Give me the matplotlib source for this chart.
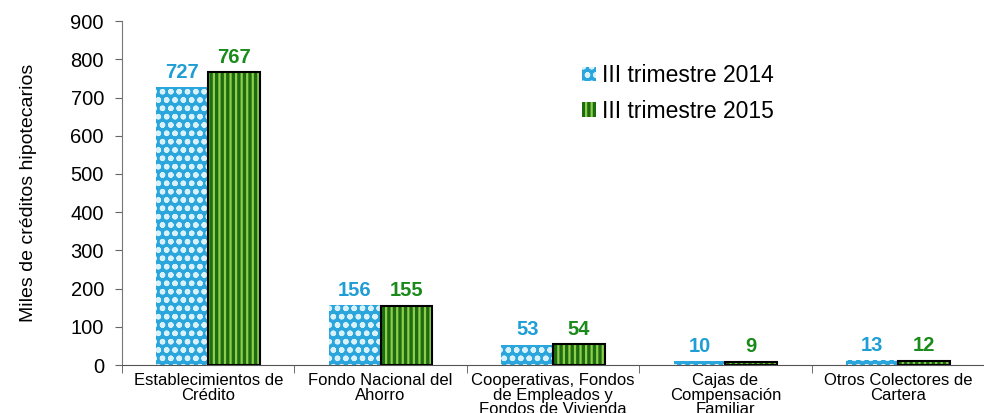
import matplotlib.pyplot as plt
import numpy as np

categories = ["Establecimientos de\nCrédito", "Fondo Nacional del\nAhorro",
              "Cooperativas, Fondos\nde Empleados y\nFondos de Vivienda",
              "Cajas de\nCompensación\nFamiliar", "Otros Colectores de\nCartera"]
serie_2014 = [727, 156, 53, 10, 13]
serie_2015 = [767, 155, 54, 9, 12]
nombres = ["III trimestre 2014", "III trimestre 2015"]

plt.rcParams['font.family'] = ['Liberation Sans', 'DejaVu Sans']
plt.rcParams['hatch.linewidth'] = 1.6

fig = plt.figure(figsize=(9.84, 4.13), dpi=100)
ax = fig.add_axes([0.124, 0.116, 0.876, 0.833])

x = np.arange(len(categories))
w = 0.3
ax.bar(x - w / 2, serie_2014, w, color='#2aa6dc', edgecolor='#d9f1fb',
       hatch='oo', linewidth=0, label=nombres[0])
ax.bar(x + w / 2, serie_2015, w, color='#1f6b12', edgecolor='#8ccf4a',
       hatch='|||', linewidth=0, label=nombres[1])
# black outline on the green bars
ax.bar(x + w / 2, serie_2015, w, fill=False, edgecolor='black', linewidth=1.5)

for i in range(len(categories)):
    ax.text(x[i] - w / 2, serie_2014[i] + 14, str(serie_2014[i]), ha='center', va='bottom',
            color='#1f9ed6', fontsize=14.5, fontweight='bold')
    ax.text(x[i] + w / 2, serie_2015[i] + 14, str(serie_2015[i]), ha='center', va='bottom',
            color='#1a8a1a', fontsize=14.5, fontweight='bold')

ax.set_xlim(-0.5, 4.48)
ax.set_ylim(0, 900)
ax.set_yticks(range(0, 901, 100))
ax.tick_params(axis='y', labelsize=14.5, direction='out', length=5, pad=8, color='#666666')
ax.set_xticks(x)
ax.set_xticklabels(categories, fontsize=12, linespacing=0.95)
ax.set_xticks(np.arange(-0.5, 5, 1), minor=True)
ax.tick_params(axis='x', which='major', length=0, pad=6)
ax.tick_params(axis='x', which='minor', length=6, direction='out', color='#555555')
ax.set_ylabel("Miles de créditos hipotecarios", fontsize=14, labelpad=24)

for s in ['top', 'right']:
    ax.spines[s].set_visible(False)
ax.spines['left'].set_color('#777777')
ax.spines['bottom'].set_color('#555555')

ax.legend(loc='upper left', bbox_to_anchor=(0.51, 0.935), frameon=False, fontsize=16.5,
          handlelength=0.6, handleheight=0.6, handletextpad=0.25, labelspacing=0.55)

fig.savefig("out.png", dpi=100)
